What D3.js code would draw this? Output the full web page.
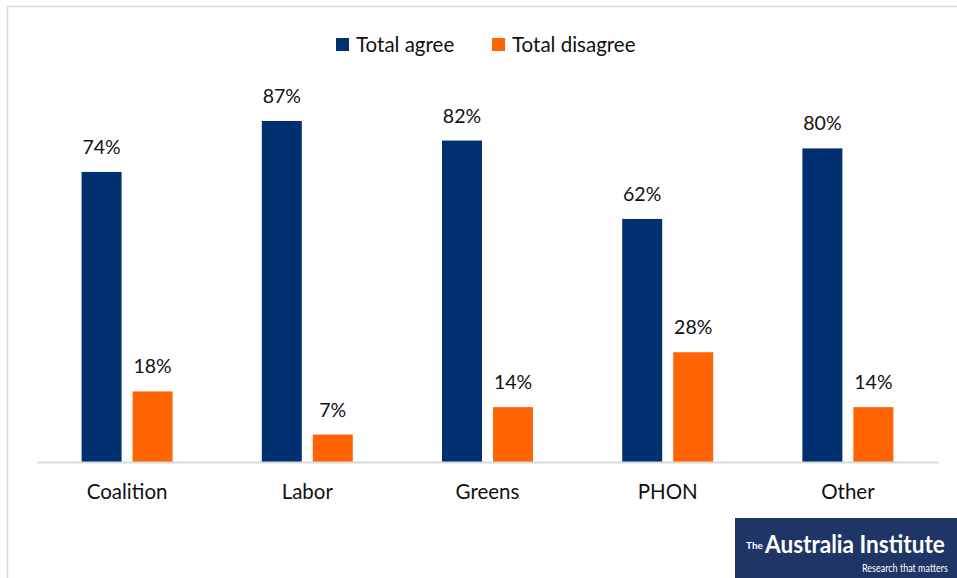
<!DOCTYPE html>
<html><head><meta charset="utf-8">
<script src="https://cdn.jsdelivr.net/npm/d3@7"></script>
<style>body{margin:0;background:#fff}svg{display:block}text{font-family:Lato,"Open Sans",sans-serif}</style>
</head><body>
<svg id="c" width="957" height="578"></svg>
<script>
const categories = ["Coalition","Labor","Greens","PHON","Other"];
const seriesNames = ["Total agree","Total disagree"];
const agree = [74,87,82,62,80];
const disagree = [18,7,14,28,14];
const colors = ["#003070","#ff6505"];

const svg = d3.select("#c");
// outer chart border (top and left edges visible)
svg.append("path").attr("d","M7.5,578V6.5H957").attr("fill","none").attr("stroke","#d9d9d9").attr("stroke-width",1.5);

const left=37, right=938, base=462;
const x0 = d3.scaleBand().domain(categories).range([left,right]).paddingInner(0).paddingOuter(0);
const x1 = d3.scaleBand().domain(seriesNames).range([x0.bandwidth()/2-45.5, x0.bandwidth()/2+45.5]).paddingInner(0.216).paddingOuter(0);
const y = d3.scaleLinear().domain([0,100]).range([base, base-392]);

const data = categories.map((c,i)=>({c, vals:[agree[i],disagree[i]]}));
const g = svg.append("g");
data.forEach(d=>{
  d.vals.forEach((v,j)=>{
    const xx = x0(d.c)+x1(seriesNames[j]);
    g.append("rect").attr("x",xx).attr("y",y(v)).attr("width",x1.bandwidth()).attr("height",base-y(v)).attr("fill",colors[j]);
    g.append("text").attr("x",xx+x1.bandwidth()/2).attr("y",y(v)-18).attr("text-anchor","middle")
      .attr("font-size",19.5).attr("fill","#111").text(v+"%");
  });
});
// axis
const ax = svg.append("g").attr("transform",`translate(0,${base})`).call(d3.axisBottom(x0).tickSize(0).tickPadding(22));
ax.select(".domain").attr("stroke","#d9d9d9").attr("stroke-width",2);
ax.selectAll("text").attr("font-size",20.5).attr("fill","#111").style("font-family","Lato,'Open Sans',sans-serif");

// legend
const lg = svg.append("g");
const lx=[336,492];
seriesNames.forEach((s,i)=>{
  lg.append("rect").attr("x",lx[i]).attr("y",38).attr("width",13).attr("height",13).attr("fill",colors[i]);
  lg.append("text").attr("x",lx[i]+20).attr("y",51.5).attr("font-size",20.5).attr("fill","#111").text(s);
});

// logo
const logo = svg.append("g");
logo.append("rect").attr("x",735).attr("y",518).attr("width",222).attr("height",60).attr("fill","#1e3566");
function fitText(parent, txt, x, yb, size, weight, width){
  const t = parent.append("text").attr("x",0).attr("y",0).attr("fill","#fff").attr("font-size",size).attr("font-weight",weight).text(txt);
  const w = t.node().getComputedTextLength();
  const s = Math.min(1, width/w);
  t.attr("transform",`translate(${x},${yb}) scale(${s},1)`);
  return t;
}
fitText(logo,"The",746,549,10,"bold",17);
fitText(logo,"Australia Institute",765,553,24,"bold",180);
fitText(logo,"Research that matters",862,572,11,"normal",86);
</script>
</body></html>
